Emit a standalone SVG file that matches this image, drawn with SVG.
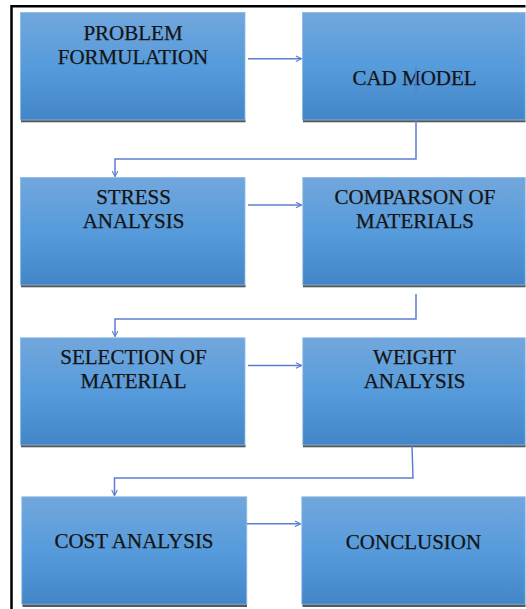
<svg xmlns="http://www.w3.org/2000/svg" width="526" height="609" viewBox="0 0 526 609">
<defs>
<linearGradient id="blue" x1="0" y1="0" x2="0" y2="1">
<stop offset="0" stop-color="#72a7dd"/>
<stop offset="0.5" stop-color="#569bdb"/>
<stop offset="1" stop-color="#4286c8"/>
</linearGradient>
<marker id="arr" viewBox="0 0 10 10" refX="9" refY="5" markerWidth="7" markerHeight="7" markerUnits="userSpaceOnUse" orient="auto">
<path d="M1,1 L9,5 L1,9" fill="none" stroke="#5b7fd0" stroke-width="1.6"/>
</marker>
</defs>
<style>
.box{fill:url(#blue);stroke:#8fbbe6;stroke-width:0.8}
.sh{fill:#585858}
.t{font-family:"Liberation Serif","Times New Roman",serif;font-size:21px;fill:#141414;stroke:#141414;stroke-width:0.25;text-anchor:middle}
.c{fill:none;stroke:#5b7fd0;stroke-width:1.5}
.frame{stroke:#000;stroke-width:2.5;fill:none}
</style>
<g id="frame">
<path class="frame" d="M11.5,609 V6.2 H525.5"/>
</g>
<g id="n1">
<rect class="sh" x="21" y="119.5" width="224.5" height="2.8"/>
<rect class="box" x="20.4" y="12.4" width="224.6" height="107.6"/>
<text class="t" x="133" y="39.5">PROBLEM</text>
<text class="t" x="133" y="64">FORMULATION</text>
</g>
<g id="n2">
<rect class="sh" x="303" y="119.5" width="222.5" height="2.8"/>
<rect class="box" x="302.4" y="12.4" width="222.8" height="107.6"/>
<text class="t" x="414.5" y="85">CAD MODEL</text>
</g>
<g id="n3">
<rect class="sh" x="21" y="284.5" width="224.5" height="2.8"/>
<rect class="box" x="20.4" y="177.4" width="224.6" height="107.6"/>
<text class="t" x="133.5" y="203.5">STRESS</text>
<text class="t" x="133.5" y="227.5">ANALYSIS</text>
</g>
<g id="n4">
<rect class="sh" x="303" y="284.5" width="222.5" height="2.8"/>
<rect class="box" x="302.8" y="177.4" width="222.4" height="107.6"/>
<text class="t" x="415" y="204">COMPARSON OF</text>
<text class="t" x="415" y="227.5">MATERIALS</text>
</g>
<g id="n5">
<rect class="sh" x="21" y="444.5" width="224.5" height="2.8"/>
<rect class="box" x="20.4" y="337.8" width="224.6" height="107.2"/>
<text class="t" x="133.5" y="364.3">SELECTION OF</text>
<text class="t" x="133.5" y="387.7">MATERIAL</text>
</g>
<g id="n6">
<rect class="sh" x="303" y="444.5" width="222.5" height="2.8"/>
<rect class="box" x="302.8" y="337.8" width="222.4" height="107.2"/>
<text class="t" x="414.5" y="364.3">WEIGHT</text>
<text class="t" x="414.5" y="387.7">ANALYSIS</text>
</g>
<g id="n7">
<rect class="sh" x="22.5" y="604" width="224.5" height="3"/>
<rect class="box" x="21.8" y="496.8" width="225" height="107.4"/>
<text class="t" x="134" y="548">COST ANALYSIS</text>
</g>
<g id="n8">
<rect class="sh" x="302.5" y="604" width="223" height="3"/>
<rect class="box" x="301.8" y="496.8" width="223.4" height="107.4"/>
<text class="t" x="413.5" y="549">CONCLUSION</text>
</g>
<g id="connectors">
<path class="c" d="M248,58.7 H301.5" marker-end="url(#arr)"/>
<path class="c" d="M248,205 H301.5" marker-end="url(#arr)"/>
<path class="c" d="M248,365.5 H301.5" marker-end="url(#arr)"/>
<path class="c" d="M247,523.8 H300.5" marker-end="url(#arr)"/>
<path class="c" d="M416,67 V92"/>
<path class="c" d="M416,121 V159 H115 V176.5" marker-end="url(#arr)"/>
<path class="c" d="M416,294 V319 H115 V336.5" marker-end="url(#arr)"/>
<path class="c" d="M412,445 L413,478 H114.5 V495.5" marker-end="url(#arr)"/>
</g>
</svg>
